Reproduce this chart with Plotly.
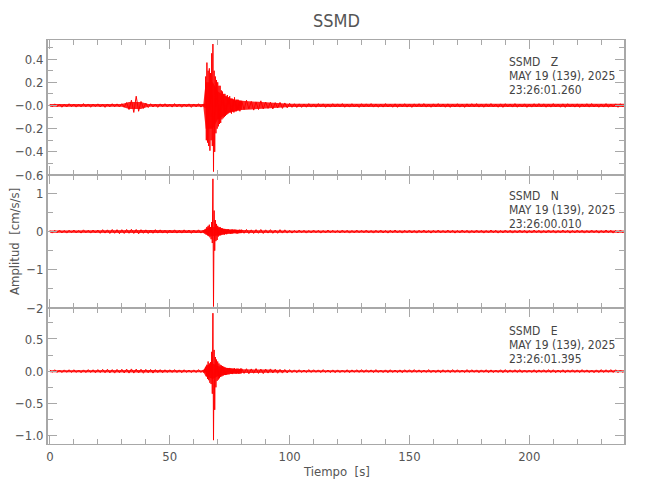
import numpy as np
import plotly.graph_objects as go

# ---------------- data ----------------
station = "SSMD"
components = ["Z", "N", "E"]
date_label = "MAY 19 (139), 2025"
start_times = ["23:26:01.260", "23:26:00.010", "23:26:01.395"]

# sampling of the typed traces: 1 s before 64 s, 0.25 s from 64 to 80 s, 1 s after
t_pre = np.arange(0, 64, 1.0)
t_evt = 64 + 0.25 * np.arange(64)
t_post = np.arange(80, 241, 1.0)
time_s = np.concatenate([t_pre, t_evt, t_post])

z_pre = [0.01,-0.012,0.014,-0.01,0.012,-0.015,0.011,-0.013,0.015,-0.01,
         0.012,-0.014,0.01,-0.012,0.016,-0.011,0.013,-0.015,0.012,-0.01,
         0.014,-0.013,0.011,-0.016,0.013,-0.012,0.015,-0.011,0.014,-0.013,
         0.016,-0.014,0.025,-0.035,0.045,-0.06,0.08,-0.05,0.035,-0.025,
         0.02,-0.018,0.015,-0.013,0.012,-0.016,0.014,-0.012,0.015,-0.013,
         0.011,-0.014,0.016,-0.012,0.013,-0.015,0.012,-0.011,0.014,-0.016,
         0.013,-0.012,0.015,-0.014]
z_evt = [0.012,-0.01,0.015,-0.02, 0.25,-0.3,0.37,-0.32, 0.3,-0.35,0.32,-0.39,
         0.28,-0.3,0.45,-0.35, 0.53,-0.57,0.3,-0.4, 0.25,-0.24,0.22,-0.2,
         0.2,-0.18,0.17,-0.16, 0.17,-0.15,0.13,-0.12, 0.12,-0.11,0.1,-0.1,
         0.1,-0.09,0.08,-0.08, 0.09,-0.07,0.07,-0.06, 0.08,-0.06,0.06,-0.07,
         0.06,-0.05,0.05,-0.06, 0.07,-0.05,0.04,-0.05, 0.05,-0.04,0.05,-0.04,
         0.04,-0.05,0.04,-0.035]
z_post = [0.04,-0.035,0.045,-0.03,0.035,-0.04,0.03,-0.035,0.04,-0.03,
          0.03,-0.025,0.028,-0.03,0.025,-0.022,0.027,-0.025,0.022,-0.02,
          0.018,-0.016,0.015,-0.017,0.014,-0.016,0.013,-0.015,0.016,-0.014,
          0.013,-0.015,0.016,-0.012,0.014,-0.016,0.012,-0.014,0.015,-0.013,
          0.014,-0.012,0.016,-0.015,0.012,-0.014,0.015,-0.013,0.012,-0.016,
          0.015,-0.013,0.014,-0.012,0.016,-0.014,0.013,-0.015,0.012,-0.014,
          0.016,-0.013,0.012,-0.015,0.014,-0.016,0.013,-0.012,0.015,-0.014,
          0.013,-0.016,0.014,-0.012,0.015,-0.013,0.016,-0.014,0.012,-0.015,
          0.014,-0.013,0.016,-0.012,0.013,-0.015,0.014,-0.016,0.012,-0.013,
          0.015,-0.014,0.012,-0.016,0.014,-0.013,0.015,-0.012,0.016,-0.014,
          0.013,-0.015,0.014,-0.012,0.016,-0.013,0.012,-0.015,0.014,-0.016,
          0.015,-0.012,0.013,-0.014,0.016,-0.015,0.012,-0.013,0.014,-0.016,
          0.012,-0.014,0.015,-0.013,0.016,-0.012,0.014,-0.015,0.013,-0.014,
          0.016,-0.013,0.012,-0.015,0.014,-0.016,0.015,-0.012,0.013,-0.014,
          0.014,-0.016,0.013,-0.012,0.015,-0.014,0.016,-0.013,0.012,-0.015,
          0.013,-0.014,0.016,-0.015,0.012,-0.013,0.014,-0.016,0.015,-0.012,
          0.013]

n_pre = [0.03,-0.04,0.035,-0.03,0.04,-0.035,0.03,-0.04,0.035,-0.03,
         0.04,-0.035,0.03,-0.04,0.045,-0.03,0.035,-0.04,0.04,-0.035,
         0.04,-0.045,0.05,-0.04,0.045,-0.05,0.055,-0.045,0.05,-0.055,
         0.05,-0.05,0.055,-0.045,0.06,-0.05,0.055,-0.06,0.05,-0.045,
         0.045,-0.05,0.04,-0.045,0.05,-0.04,0.045,-0.04,0.035,-0.045,
         0.04,-0.035,0.045,-0.04,0.035,-0.04,0.045,-0.035,0.04,-0.045,
         0.04,-0.035,0.045,-0.04]
n_evt = [0.04,-0.035,0.045,-0.04, 0.05,-0.06,0.12,-0.1, 0.15,-0.12,0.18,-0.15,
         0.12,-0.2,0.25,-0.3, 1.38,-1.96,0.55,-0.5, 0.3,-0.25,0.2,-0.22,
         0.15,-0.13,0.12,-0.1, 0.12,-0.1,0.09,-0.08, 0.08,-0.07,0.07,-0.08,
         0.07,-0.06,0.06,-0.07, 0.06,-0.05,0.06,-0.05, 0.05,-0.06,0.05,-0.05,
         0.06,-0.05,0.05,-0.04, 0.05,-0.04,0.05,-0.05, 0.045,-0.05,0.04,-0.045,
         0.05,-0.04,0.045,-0.04]
n_post = [0.05,-0.045,0.055,-0.05,0.045,-0.05,0.05,-0.045,0.055,-0.05,
          0.045,-0.04,0.05,-0.045,0.04,-0.045,0.05,-0.04,0.045,-0.04,
          0.035,-0.04,0.03,-0.035,0.04,-0.03,0.035,-0.04,0.03,-0.035,
          0.04,-0.03,0.035,-0.04,0.03,-0.035,0.04,-0.03,0.035,-0.03,
          0.03,-0.035,0.04,-0.03,0.035,-0.04,0.03,-0.035,0.04,-0.03,
          0.035,-0.03,0.04,-0.035,0.03,-0.04,0.035,-0.03,0.04,-0.035,
          0.03,-0.04,0.035,-0.03,0.04,-0.035,0.03,-0.04,0.035,-0.03,
          0.04,-0.035,0.03,-0.04,0.035,-0.03,0.04,-0.035,0.03,-0.04,
          0.035,-0.03,0.04,-0.035,0.03,-0.035,0.04,-0.03,0.035,-0.04,
          0.03,-0.035,0.04,-0.03,0.035,-0.04,0.03,-0.035,0.04,-0.03,
          0.035,-0.04,0.03,-0.035,0.04,-0.03,0.035,-0.04,0.03,-0.035,
          0.04,-0.03,0.035,-0.04,0.03,-0.035,0.04,-0.03,0.035,-0.04,
          0.03,-0.035,0.04,-0.03,0.035,-0.04,0.03,-0.035,0.04,-0.03,
          0.035,-0.04,0.03,-0.035,0.04,-0.03,0.035,-0.04,0.03,-0.035,
          0.04,-0.03,0.035,-0.04,0.03,-0.035,0.04,-0.03,0.035,-0.04,
          0.03,-0.035,0.04,-0.03,0.035,-0.04,0.03,-0.035,0.04,-0.03,
          0.035]

e_pre = [0.02,-0.018,0.022,-0.02,0.018,-0.022,0.02,-0.018,0.022,-0.02,
         0.022,-0.02,0.018,-0.024,0.02,-0.022,0.024,-0.02,0.022,-0.025,
         0.025,-0.022,0.028,-0.025,0.03,-0.027,0.025,-0.03,0.028,-0.025,
         0.03,-0.028,0.032,-0.03,0.035,-0.03,0.032,-0.028,0.03,-0.032,
         0.028,-0.025,0.027,-0.03,0.025,-0.022,0.024,-0.025,0.022,-0.02,
         0.022,-0.02,0.024,-0.022,0.02,-0.024,0.022,-0.02,0.018,-0.022,
         0.02,-0.022,0.024,-0.02]
e_evt = [0.02,-0.025,0.03,-0.02, 0.06,-0.08,0.1,-0.12, 0.15,-0.14,0.12,-0.18,
         0.14,-0.2,0.3,-0.35, 0.9,-1.07,0.33,-0.6, 0.22,-0.25,0.18,-0.15,
         0.15,-0.13,0.12,-0.11, 0.1,-0.09,0.09,-0.08, 0.08,-0.07,0.07,-0.06,
         0.06,-0.06,0.05,-0.055, 0.05,-0.05,0.045,-0.05, 0.05,-0.04,0.045,-0.04,
         0.04,-0.045,0.04,-0.035, 0.045,-0.04,0.035,-0.04, 0.04,-0.035,0.04,-0.04,
         0.035,-0.04,0.04,-0.035]
e_post = [0.04,-0.035,0.038,-0.04,0.035,-0.032,0.04,-0.035,0.032,-0.038,
          0.032,-0.03,0.035,-0.028,0.03,-0.032,0.028,-0.03,0.026,-0.028,
          0.024,-0.022,0.02,-0.024,0.022,-0.02,0.018,-0.022,0.024,-0.02,
          0.022,-0.018,0.02,-0.022,0.024,-0.02,0.018,-0.022,0.02,-0.024,
          0.02,-0.022,0.018,-0.02,0.022,-0.024,0.02,-0.018,0.022,-0.02,
          0.024,-0.02,0.022,-0.018,0.02,-0.022,0.024,-0.02,0.018,-0.022,
          0.02,-0.024,0.022,-0.02,0.018,-0.022,0.02,-0.024,0.022,-0.018,
          0.022,-0.02,0.024,-0.018,0.02,-0.022,0.018,-0.02,0.024,-0.022,
          0.018,-0.022,0.02,-0.024,0.022,-0.018,0.02,-0.022,0.024,-0.02,
          0.022,-0.02,0.018,-0.022,0.024,-0.02,0.022,-0.018,0.02,-0.024,
          0.02,-0.018,0.022,-0.024,0.02,-0.022,0.018,-0.02,0.022,-0.024,
          0.024,-0.022,0.02,-0.018,0.022,-0.02,0.024,-0.022,0.018,-0.02,
          0.018,-0.02,0.022,-0.024,0.02,-0.018,0.022,-0.02,0.024,-0.022,
          0.022,-0.024,0.018,-0.02,0.022,-0.024,0.02,-0.018,0.022,-0.02,
          0.02,-0.022,0.024,-0.018,0.02,-0.022,0.018,-0.024,0.02,-0.022,
          0.024,-0.02,0.022,-0.018,0.024,-0.02,0.022,-0.024,0.018,-0.02,
          0.022]

# noise-band half widths (the dense red band under each trace), read at these times
env_t = [0, 30, 33, 38, 41, 64, 65, 68, 70, 75, 80, 90, 100, 240]
z_env = [0.012, 0.012, 0.03, 0.03, 0.012, 0.012, 0.2, 0.2, 0.12, 0.06, 0.04, 0.03, 0.014, 0.014]
n_env = [0.03, 0.04, 0.045, 0.045, 0.04, 0.035, 0.08, 0.12, 0.1, 0.05, 0.04, 0.035, 0.03, 0.03]
e_env = [0.015, 0.02, 0.025, 0.025, 0.02, 0.015, 0.08, 0.12, 0.08, 0.04, 0.03, 0.025, 0.015, 0.015]

z_vals = z_pre + z_evt + z_post
n_vals = n_pre + n_evt + n_post
e_vals = e_pre + e_evt + e_post

z_ticks = [0.4, 0.2, 0.0, -0.2, -0.4, -0.6]
z_ticktext = ["0.4", "0.2", "\u22120.0", "\u22120.2", "\u22120.4", "\u22120.6"]
n_ticks = [1, 0, -1, -2]
n_ticktext = ["1", "0", "\u22121", "\u22122"]
e_ticks = [0.5, 0.0, -0.5, -1.0]
e_ticktext = ["0.5", "0.0", "\u22120.5", "\u22121.0"]
x_ticks = [0, 50, 100, 150, 200]

# ---------------- figure ----------------
FONT = "DejaVu Sans Condensed, Liberation Sans Narrow, Arial Narrow, sans-serif"
AX = "#a8a8a8"
TXT = "#555555"
RED = "#ff0000"

fig = go.Figure()
panels = [(z_vals, z_env, "x", "y"), (n_vals, n_env, "x2", "y2"), (e_vals, e_env, "x3", "y3")]
for vals, env, xa, ya in panels:
    fig.add_trace(go.Scatter(x=env_t, y=[-v for v in env], mode="lines", xaxis=xa, yaxis=ya,
                             line=dict(color=RED, width=0), hoverinfo="skip", showlegend=False))
    fig.add_trace(go.Scatter(x=env_t, y=env, mode="lines", xaxis=xa, yaxis=ya, fill="tonexty",
                             fillcolor="rgba(255,0,0,0.85)", line=dict(color=RED, width=0),
                             hoverinfo="skip", showlegend=False))
    fig.add_trace(go.Scatter(x=time_s, y=vals, mode="lines", xaxis=xa, yaxis=ya,
                             line=dict(color=RED, width=1), hoverinfo="skip", showlegend=False))

def xax(show_labels):
    return dict(range=[-0.8, 239.5], tickmode="array", tickvals=x_ticks, ticks="inside",
                ticklen=9, tickwidth=1, tickcolor=AX, showline=True, linecolor=AX, linewidth=1,
                mirror="allticks", showgrid=False, zeroline=False, showticklabels=show_labels,
                tickfont=dict(family=FONT, size=13, color=TXT),
                minor=dict(tick0=0, dtick=10, ticks="inside", ticklen=5, tickcolor=AX, showgrid=False))

def yax(rng, dom, tv, tt, mdt):
    return dict(range=rng, domain=dom, tickmode="array", tickvals=tv, ticktext=tt, ticks="inside",
                ticklen=9, tickwidth=1, tickcolor=AX, showline=True, linecolor=AX, linewidth=2,
                mirror="allticks", showgrid=False, zeroline=False,
                tickfont=dict(family=FONT, size=13, color=TXT),
                minor=dict(tick0=0, dtick=mdt, ticks="inside", ticklen=5, tickcolor=AX, showgrid=False))

fig.update_layout(
    width=650, height=500, margin=dict(l=48, r=26, t=40, b=56),
    paper_bgcolor="white", plot_bgcolor="white",
    xaxis=dict(xax(False), anchor="y"),
    xaxis2=dict(xax(False), anchor="y2", matches="x"),
    xaxis3=dict(xax(True), anchor="y3", matches="x"),
    yaxis=dict(yax([-0.6, 0.565], [0.6658, 1.0], z_ticks, z_ticktext, 0.1), anchor="x"),
    yaxis2=dict(yax([-2.0, 1.48], [0.3366, 0.6658], n_ticks, n_ticktext, 0.5), anchor="x2"),
    yaxis3=dict(yax([-1.13, 0.98], [0.0, 0.3366], e_ticks, e_ticktext, 0.25), anchor="x3"),
)

ann = []
ann.append(dict(text=station, x=0.5, y=(444 - 21) / 404, xref="paper", yref="paper",
                showarrow=False, font=dict(family=FONT, size=18, color=TXT),
                xanchor="center", yanchor="middle"))
ann.append(dict(text="Tiempo  [s]", x=(336 - 48) / 576, y=(444 - 471) / 404, xref="paper", yref="paper",
                showarrow=False, font=dict(family=FONT, size=13, color=TXT),
                xanchor="center", yanchor="middle"))
ann.append(dict(text="Amplitud  [cm/s/s]", x=(14 - 48) / 576, y=(444 - 242) / 404, xref="paper", yref="paper",
                showarrow=False, textangle=-90, font=dict(family=FONT, size=13, color=TXT),
                xanchor="center", yanchor="middle"))
first_line_y = [62, 196, 331]
for comp, st, y0 in zip(components, start_times, first_line_y):
    lines = [f"{station}   {comp}", date_label, st]
    for i, s in enumerate(lines):
        ann.append(dict(text=s, x=(507 - 48) / 576, y=(444 - (y0 + 14 * i)) / 404,
                        xref="paper", yref="paper", showarrow=False,
                        font=dict(family=FONT, size=12, color="#444444"),
                        xanchor="left", yanchor="middle"))
fig.update_layout(annotations=ann)

fig.write_html("out.html", config={"displayModeBar": False},
               post_script="document.body.style.margin='0px';")
